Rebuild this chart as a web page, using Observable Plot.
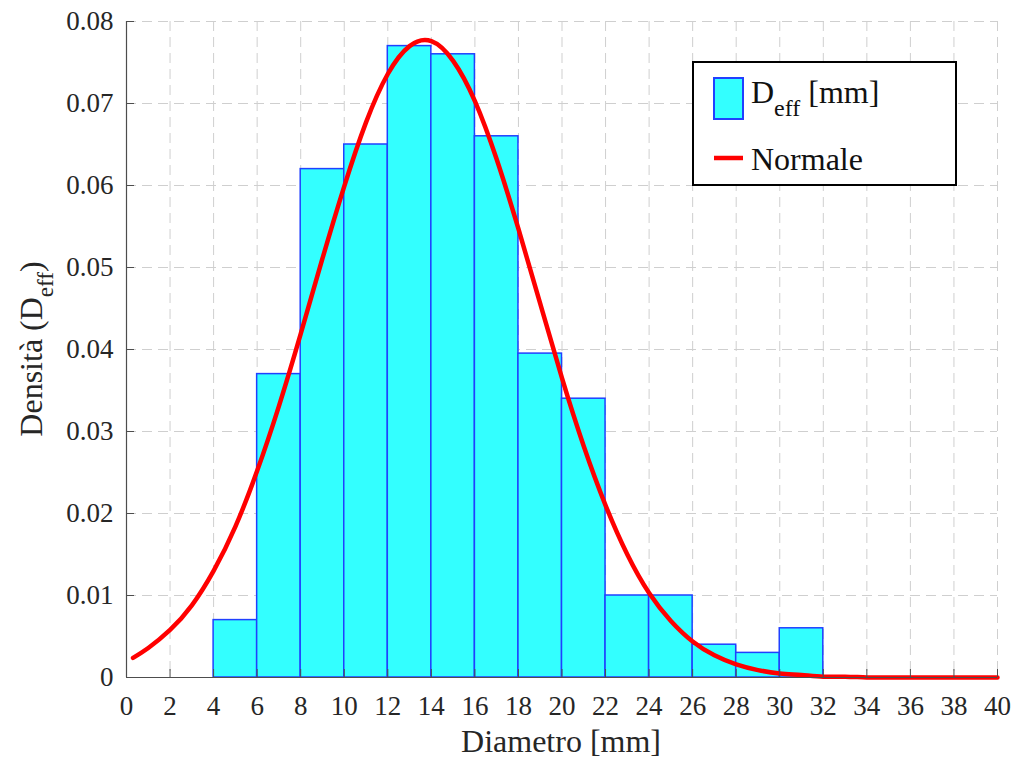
<!DOCTYPE html>
<html><head><meta charset="utf-8">
<script src="https://cdn.jsdelivr.net/npm/d3@7"></script>
<script src="https://cdn.jsdelivr.net/npm/@observablehq/plot@0.6"></script>
<style>body{margin:0;background:#fff;} #chart{position:relative;width:1018px;height:760px;}</style>
</head><body><div id="chart"></div>
<script>
// Histogram bins (Diametro [mm]) and densities
const binStart = [4, 6, 8, 10, 12, 14, 16, 18, 20, 22, 24, 26, 28, 30];
const binEnd   = [6, 8, 10, 12, 14, 16, 18, 20, 22, 24, 26, 28, 30, 32];
const density  = [0.007, 0.037, 0.062, 0.065, 0.077, 0.076, 0.066, 0.0395, 0.034, 0.010, 0.010, 0.004, 0.003, 0.006];

// Normal curve at each mm
const curveX = [0.3,1,2,3,4,5,6,7,8,9,10,11,12,13,14,15,16,17,18,19,20,21,22,23,24,25,26,27,28,29,30,31,32,33,34,35,36,37,38,39,40];
const curveY = [0.0024,0.0036,0.0058,0.0088,0.0130,0.0184,0.0252,0.0331,0.0419,0.0511,0.0599,0.0677,0.0736,0.0770,0.0776,0.0752,0.0703,0.0632,0.0547,0.0456,0.0365,0.0282,0.0210,0.0150,0.0103,0.0069,0.0044,0.0027,0.0016,0.0009,0.0005,0.0003,0.0001,0.0001,0,0,0,0,0,0,0];

const xTicks = [0,2,4,6,8,10,12,14,16,18,20,22,24,26,28,30,32,34,36,38,40];
const yTicks = [0,0.01,0.02,0.03,0.04,0.05,0.06,0.07,0.08];
const yTickLabels = ["0","0.01","0.02","0.03","0.04","0.05","0.06","0.07","0.08"];

const bins = binStart.map((s, i) => ({x1: s, x2: binEnd[i], d: density[i]}));
const curve = curveX.map((x, i) => ({x, y: curveY[i]}));

const FONT = "'Liberation Serif', 'Times New Roman', serif";
const AX = "#4d4d4d";
const TXT = "#262626";

const chart = Plot.plot({
  width: 1018, height: 760,
  marginLeft: 126, marginRight: 21, marginTop: 21, marginBottom: 83,
  style: {fontFamily: FONT, fontSize: "27px", color: TXT, background: "white"},
  x: {domain: [0, 40]},
  y: {domain: [0, 0.08]},
  marks: [
    Plot.gridX(xTicks, {stroke: "#cfcfcf", strokeOpacity: 1, strokeDasharray: "10,6", strokeWidth: 1}),
    Plot.gridY(yTicks, {stroke: "#cfcfcf", strokeOpacity: 1, strokeDasharray: "10,6", strokeWidth: 1}),
    Plot.rectY(bins, {x1: "x1", x2: "x2", y: "d", fill: "#33ffff", stroke: "#2040ff", strokeWidth: 1.5}),
    Plot.line(curve, {x: "x", y: "y", stroke: "#ff0000", strokeWidth: 4.5, curve: "natural"}),
    Plot.ruleX([0], {stroke: AX, strokeWidth: 1.2}),
    Plot.ruleY([0], {stroke: AX, strokeWidth: 1.2}),
    Plot.axisX(xTicks, {tickSize: -8, tickPadding: 26, label: null, stroke: AX, fill: TXT, fontSize: 27}),
    Plot.axisY(yTicks, {tickSize: -8, tickPadding: 21, label: null, stroke: AX, fill: TXT, fontSize: 27,
      tickFormat: (d) => yTickLabels[yTicks.indexOf(d)]})
  ]
});

const svg = d3.select(chart);

// Axis titles
svg.append("text")
  .attr("x", 561).attr("y", 752)
  .attr("text-anchor", "middle")
  .attr("font-family", FONT).attr("font-size", 32).attr("fill", TXT)
  .text("Diametro [mm]");

const yl = svg.append("text")
  .attr("transform", "translate(42,349) rotate(-90)")
  .attr("text-anchor", "middle")
  .attr("font-family", FONT).attr("font-size", 32).attr("fill", TXT);
yl.append("tspan").text("Densità (D");
yl.append("tspan").attr("font-size", 23).attr("dy", 11).text("eff");
yl.append("tspan").attr("dy", -11).text(")");

// Legend
const lg = svg.append("g").attr("text-anchor", "start");
lg.append("rect").attr("x", 693).attr("y", 62).attr("width", 263).attr("height", 123)
  .attr("fill", "white").attr("stroke", "black").attr("stroke-width", 2);
lg.append("rect").attr("x", 714).attr("y", 78).attr("width", 29).attr("height", 41)
  .attr("fill", "#33ffff").attr("stroke", "#2040ff").attr("stroke-width", 2);
const t1 = lg.append("text").attr("x", 751).attr("y", 103).attr("text-anchor", "start")
  .attr("font-family", FONT).attr("font-size", 32).attr("fill", "#111");
t1.append("tspan").text("D");
t1.append("tspan").attr("font-size", 24).attr("dy", 13).text("eff");
t1.append("tspan").attr("dy", -13).attr("dx", 8).text("[mm]");
lg.append("line").attr("x1", 714).attr("x2", 743).attr("y1", 158).attr("y2", 158)
  .attr("stroke", "#ff0000").attr("stroke-width", 4.5);
lg.append("text").attr("x", 751).attr("y", 170).attr("text-anchor", "start")
  .attr("font-family", FONT).attr("font-size", 32).attr("fill", "#111")
  .text("Normale");

document.getElementById("chart").appendChild(chart);
</script>
</body></html>
